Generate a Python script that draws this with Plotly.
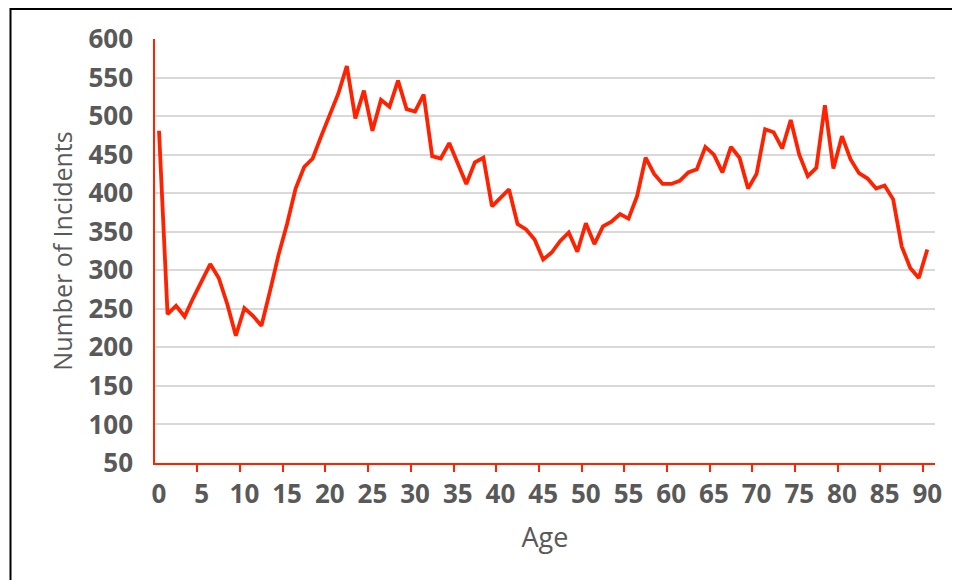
import plotly.graph_objects as go

ages = list(range(0, 91))
incidents = [
    481, 243, 254, 240, 264, 286, 308, 290, 256, 215,
    251, 241, 228, 273, 320, 360, 406, 434, 445, 474,
    503, 529, 565, 497, 533, 481, 521, 512, 546, 509,
    506, 528, 448, 445, 465, 440, 412, 440, 446, 383,
    394, 405, 360, 353, 340, 314, 323, 338, 349, 324,
    361, 334, 357, 363, 373, 367, 396, 446, 425, 412,
    412, 416, 427, 431, 460, 450, 427, 460, 446, 406,
    425, 483, 479, 458, 495, 450, 422, 433, 514, 432,
    474, 444, 426, 419, 406, 410, 392, 331, 303, 290,
    327,
]
x_tick_labels = [str(v) for v in range(0, 91, 5)]
y_ticks = list(range(50, 601, 50))

RED = "#FF2200"
GRAY_TEXT = "#595959"
GRID = "#D9D9D9"

fig = go.Figure()
fig.add_trace(go.Scatter(
    x=ages, y=incidents, mode="lines",
    line=dict(color=RED, width=3.8),
    showlegend=False, hoverinfo="x+y",
))

W, H = 960, 580
L, R, T, B = 147, 33, 31, 125
pw, ph = W - L - R, H - T - B

def fx(px):
    return (px - L) / pw

def fy(py):
    return (H - B - py) / ph

fig.update_layout(
    width=W, height=H,
    margin=dict(l=L, r=R, t=T, b=B),
    paper_bgcolor="white", plot_bgcolor="white",
    font=dict(family="Open Sans", color=GRAY_TEXT),
    xaxis=dict(
        range=[-0.47, 90.9],
        tickmode="array",
        tickvals=list(range(0, 91, 5)),
        ticktext=x_tick_labels,
        ticks="",
        tickfont=dict(family="Open Sans", size=26, color=GRAY_TEXT, weight="bold"),
        ticklabelstandoff=7,
        showgrid=False, zeroline=False,
        showline=True, linecolor=RED, linewidth=2,
        minor=dict(
            tickmode="array",
            tickvals=[v - 0.5 for v in range(0, 91, 5)],
            ticks="outside", ticklen=7, tickcolor=RED, tickwidth=1.5,
            showgrid=False,
        ),
        title=dict(text="Age", font=dict(family="Open Sans", size=27, color=GRAY_TEXT), standoff=18),
        automargin=False,
    ),
    yaxis=dict(
        range=[50, 600],
        tickmode="array",
        tickvals=y_ticks,
        ticktext=[str(v) for v in y_ticks],
        ticks="",
        tickfont=dict(family="Open Sans", size=26, color=GRAY_TEXT, weight="bold"),
        ticklabelstandoff=15,
        showgrid=True, gridcolor=GRID, gridwidth=1.5,
        zeroline=False,
        showline=True, linecolor=RED, linewidth=1.5,
        title=dict(text="Number of Incidents", font=dict(family="Open Sans", size=25, color=GRAY_TEXT), standoff=9),
        automargin=False,
    ),
    shapes=[dict(
        type="rect", xref="paper", yref="paper",
        x0=fx(2.5), x1=fx(956),
        y0=fy(579), y1=fy(1),
        line=dict(color="black", width=2), fillcolor="rgba(0,0,0,0)",
        layer="above",
    )],
)

fig.write_html("out.html")
